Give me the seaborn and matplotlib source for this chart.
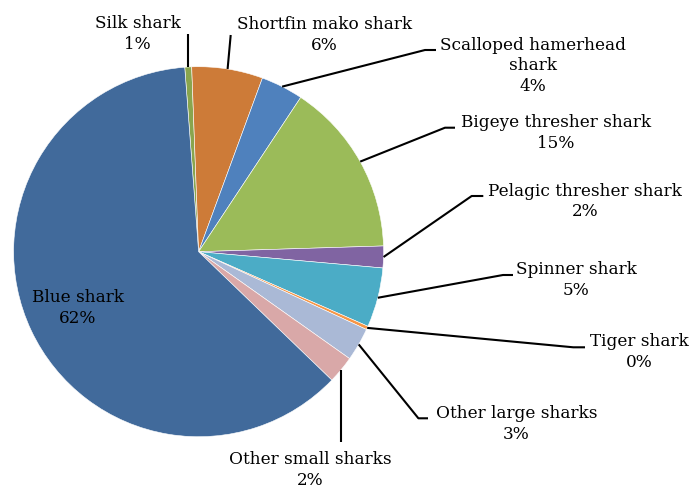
import numpy as np
import pandas as pd
import seaborn as sns
import matplotlib.pyplot as plt

# -- shark catch composition (percent of total) -- #
species = ['Silk shark', 'Shortfin mako shark', 'Scalloped hamerhead\nshark',
           'Bigeye thresher shark', 'Pelagic thresher shark', 'Spinner shark',
           'Tiger shark', 'Other large sharks', 'Other small sharks', 'Blue shark']
share = [0.6, 6.2, 3.7, 15.2, 1.9, 5.2, 0.3, 2.9, 2.4, 61.6]
colors = ['#89A54E', '#CD7B38', '#4F81BD', '#9BBB59', '#8064A2',
          '#4BACC6', '#F79646', '#AAB9D6', '#D9A8A8', '#416A9B']

sns.set_theme(style='white')
plt.rcParams['font.family'] = ['DejaVu Serif']

W, H = 692, 488
fig = plt.figure(figsize=(W / 100, H / 100), dpi=100)
ax = fig.add_axes([0, 0, 1, 1])

cx, cy, R = 198.6, H - 251.7, 185
wedges, _ = ax.pie(share, colors=colors, startangle=94.3, counterclock=False,
                   center=(cx, cy), radius=R, frame=True,
                   wedgeprops=dict(edgecolor='white', linewidth=0.4))
ax.set_xlim(0, W)
ax.set_ylim(0, H)
ax.set_aspect('equal')
ax.axis('off')

# label layout in image pixels: text block centre and leader path (after wedge point)
layout = {
    'Silk shark': ((137.5, 34), [(186.7, 34)]),
    'Shortfin mako shark': ((324.5, 35), [(230.7, 35)]),
    'Scalloped hamerhead\nshark': ((533, 66), [(425, 50), (436, 50)]),
    'Bigeye thresher shark': ((556, 133), [(445, 127.7), (455, 127.7)]),
    'Pelagic thresher shark': ((585, 201.5), [(471.7, 196), (483.3, 196)]),
    'Spinner shark': ((576.5, 280), [(503, 275), (513, 275)]),
    'Tiger shark': ((639.5, 352), [(573.3, 347.3), (585, 347.3)]),
    'Other large sharks': ((516.3, 424), [(418.4, 418.3), (428, 418.3)]),
    'Other small sharks': ((310, 470), [(340.7, 442)]),
    'Blue shark': ((78, 308), None),
}

total = sum(share)
for w, name, val in zip(wedges, species, share):
    (tx, ty), path = layout[name]
    txt = '{}\n{:.0f}%'.format(name, 100 * val / total)
    ax.text(tx, H - ty, txt, ha='center', va='center', fontsize=12.2,
            color='black', linespacing=1.27)
    if path is None:
        continue
    mid = np.deg2rad((w.theta1 + w.theta2) / 2)
    px, py = cx + R * np.cos(mid), cy + R * np.sin(mid)
    if name in ('Silk shark', 'Other small sharks'):
        xs = [px, px]
        ys = [py, H - path[0][1]]
    else:
        xs = [px] + [p[0] for p in path]
        ys = [py] + [H - p[1] for p in path]
    ax.plot(xs, ys, color='black', lw=1.5, solid_capstyle='butt')

fig.savefig('out.png', dpi=100)
